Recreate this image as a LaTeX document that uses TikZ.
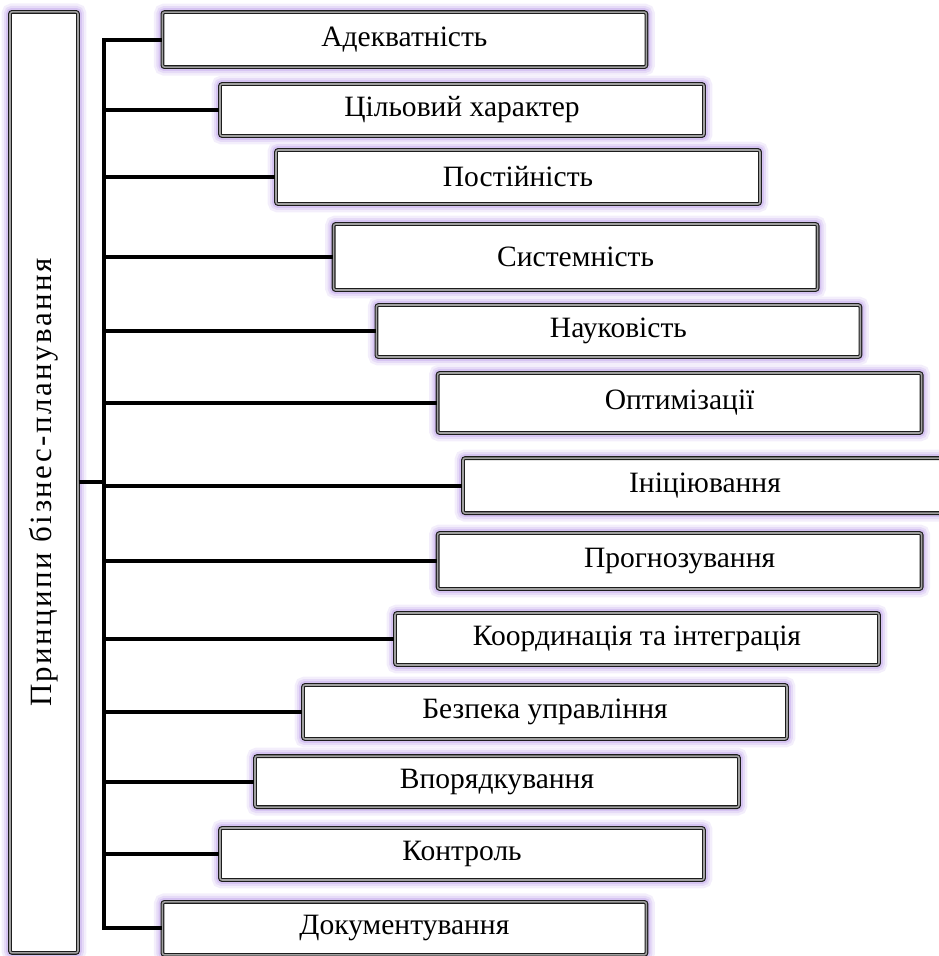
\documentclass[tikz,border=0pt]{standalone}
\usepackage{fontspec}
\setmainfont{Liberation Serif}
\newfontfamily\spacedserif[LetterSpace=8]{Liberation Serif}
\usetikzlibrary{positioning}
\definecolor{ink}{HTML}{1C1C1C}
\definecolor{frame}{HTML}{A0A0A0}
\definecolor{glow}{HTML}{C8B0EE}

\begin{document}
\begin{tikzpicture}[
  principle/.style={draw=ink, double=frame, line width=0.8pt,
                    double distance=1.1pt, fill=white,
                    rounded corners=1.5pt, minimum width=12.1cm,
                    inner sep=0pt, align=center,
                    font=\fontsize{21}{24}\selectfont,
                    preaction={draw=glow!22, line width=12pt},
                    preaction={draw=glow!45, line width=8.5pt},
                    preaction={draw=glow!75, line width=5.5pt}},
  titlebox/.style={principle, minimum width=23.525cm,
                   minimum height=1.7cm, rotate=90,
                   font=\spacedserif\fontsize{22}{26}\selectfont},
  branch/.style={draw=black, line width=2.8pt},
]
\useasboundingbox (0,0) rectangle (23.475,-23.9);

\node[titlebox] (main) at (1.1,-12.06) {Принципи бізнес-планування};

\node[principle, minimum height=1.375cm] (p1)  at (10.11,-0.99)  {Адекватність};
\node[principle, minimum height=1.3cm]   (p2)  at (11.55,-2.75)  {Цільовий характер};
\node[principle, minimum height=1.35cm]  (p3)  at (12.95,-4.425) {Постійність};
\node[principle, minimum height=1.65cm]  (p4)  at (14.39,-6.425) {Системність};
\node[principle, minimum height=1.3cm]   (p5)  at (15.46,-8.275) {Науковість};
\node[principle, minimum height=1.5cm]   (p6)  at (16.99,-10.075) {Оптимізації};
\node[principle, minimum height=1.375cm] (p7)  at (17.625,-12.14) {Ініціювання};
\node[principle, minimum height=1.4cm]   (p8)  at (16.99,-14.025) {Прогнозування};
\node[principle, minimum height=1.3cm]   (p9)  at (15.925,-15.975) {Координація та інтеграція};
\node[principle, minimum height=1.35cm]  (p10) at (13.625,-17.8) {Безпека управління};
\node[principle, minimum height=1.275cm] (p11) at (12.425,-19.54) {Впорядкування};
\node[principle, minimum height=1.3cm]   (p12) at (11.55,-21.35) {Контроль};
\node[principle, minimum height=1.325cm] (p13) at (10.11,-23.21) {Документування};

\coordinate (spine) at (2.6,0);

% spine with first and last branch
\draw[branch] (p1.west) -- (p1.west -| spine) -- (p13.west -| spine) -- (p13.west);
\foreach \i in {2,...,12}
  \draw[branch] (spine |- p\i.west) -- (p\i.west);
\draw[branch] (main.south) -- (main.south -| spine);
\end{tikzpicture}
\end{document}
